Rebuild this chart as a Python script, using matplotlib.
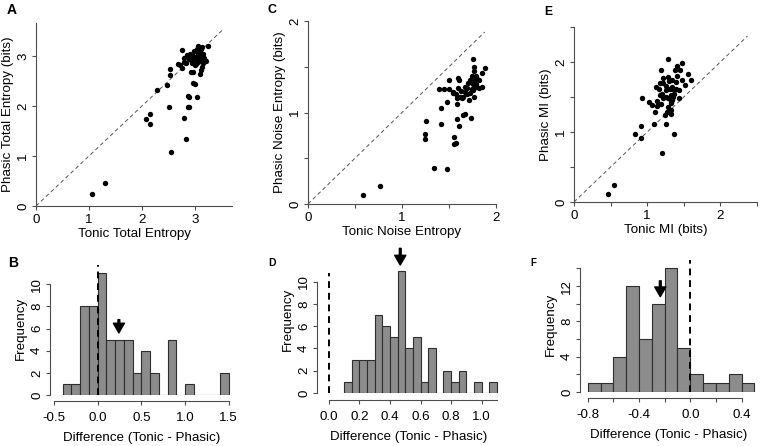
import numpy as np
import matplotlib.pyplot as plt

plt.rcParams['font.family'] = ['Liberation Sans', 'DejaVu Sans']
plt.rcParams['font.size'] = 9.6

# ---- panel A: total entropy (tonic vs phasic) ----
tot_tonic = [1.05, 1.31, 2.08, 2.16, 2.16, 2.28, 2.48, 2.51, 2.54, 2.53,
             2.53, 2.80, 2.84, 2.86, 2.89, 2.86, 2.89, 3.03, 2.96, 3.01,
             2.92, 2.97, 2.76, 2.69, 2.76, 2.80, 2.84, 2.91, 2.94, 3.00,
             3.03, 3.09, 3.13, 3.25, 3.21, 3.09, 3.13, 3.06, 3.14, 2.98,
             3.05, 3.10, 3.07, 2.88, 2.85, 3.12, 3.16, 3.02, 3.11, 2.72,
             3.06, 3.15, 2.96, 3.08, 2.93, 3.04, 3.12, 3.00, 2.79, 3.18]
tot_phasic = [0.24, 0.47, 1.75, 1.84, 1.64, 2.33, 2.43, 1.99, 1.09, 2.74,
              2.63, 1.76, 1.35, 2.20, 2.19, 1.98, 1.99, 2.19, 2.47, 2.45,
              2.69, 2.68, 3.12, 2.85, 2.76, 2.97, 2.86, 3.05, 2.86, 2.95,
              3.15, 3.05, 3.19, 3.20, 2.90, 2.65, 2.79, 2.89, 2.99, 3.10,
              3.05, 3.12, 2.98, 2.95, 3.03, 2.92, 3.05, 2.85, 2.72, 2.83,
              3.20, 2.87, 3.00, 2.93, 2.93, 2.98, 3.15, 2.82, 2.88, 2.96]

# ---- panel C: noise entropy ----
noise_tonic = [0.59, 0.77, 1.24, 1.24, 1.26, 1.34, 1.48, 1.41, 1.41, 1.39,
               1.45, 1.50, 1.48, 1.50, 1.54, 1.55, 1.55, 1.57, 1.58, 1.61,
               1.59, 1.60, 1.61, 1.65, 1.67, 1.73, 1.75, 1.77, 1.88, 1.85,
               1.85, 1.79, 1.74, 1.72, 1.78, 1.79, 1.76, 1.79, 1.72, 1.69,
               1.71, 1.65, 1.62, 1.58, 1.54, 1.69, 1.74, 1.77, 1.82, 1.82,
               1.60, 1.67, 1.63, 1.70, 1.75, 1.80, 1.67, 1.57, 1.64, 1.77]
noise_phasic = [0.10, 0.20, 0.77, 0.71, 0.91, 0.39, 0.38, 0.87, 1.05, 1.26,
                1.26, 1.26, 1.11, 1.35, 1.22, 0.73, 0.66, 0.67, 0.93, 0.85,
                1.09, 1.38, 1.36, 0.97, 0.98, 0.94, 1.58, 1.50, 1.49, 1.43,
                1.28, 1.40, 1.40, 1.35, 1.35, 1.28, 1.25, 1.31, 1.21, 1.20,
                1.14, 1.17, 1.17, 1.16, 1.21, 1.27, 1.26, 1.17, 1.27, 1.36,
                1.27, 1.28, 1.24, 1.32, 1.31, 1.37, 1.22, 1.20, 1.16, 1.45]

# ---- panel E: mutual information ----
mi_tonic = [0.46, 0.55, 0.83, 0.91, 0.92, 0.93, 1.02, 1.06, 1.09, 1.11,
            1.13, 1.14, 1.12, 1.16, 1.19, 1.20, 1.19, 1.22, 1.24, 1.25,
            1.27, 1.28, 1.29, 1.30, 1.28, 1.32, 1.32, 1.34, 1.34, 1.35,
            1.32, 1.37, 1.38, 1.41, 1.45, 1.47, 1.48, 1.51, 1.56, 1.60,
            1.39, 1.40, 1.37, 1.25, 1.20, 1.18, 1.43, 1.29, 1.26, 1.41,
            1.34, 1.21, 1.32, 1.26, 1.36, 1.31, 1.22, 1.44, 1.17, 1.33]
mi_phasic = [0.12, 0.25, 0.97, 0.92, 1.08, 1.48, 1.43, 1.39, 1.12, 1.29,
             1.37, 1.44, 1.64, 1.62, 1.88, 0.70, 1.40, 1.70, 1.24, 1.11,
             1.29, 2.04, 1.79, 1.73, 1.36, 1.32, 1.53, 1.64, 1.46, 1.50,
             1.26, 0.97, 1.89, 1.94, 1.89, 1.99, 1.75, 1.67, 1.83, 1.74,
             1.72, 1.61, 1.60, 1.60, 1.55, 1.70, 1.48, 1.49, 1.50, 1.80,
             1.74, 1.77, 1.41, 1.66, 1.55, 1.62, 1.48, 1.60, 1.53, 1.45]

# ---- histograms of differences (bin left edges and counts) ----
tot_bins = np.round(np.arange(-0.4, 1.5, 0.1), 2)
tot_counts = [1, 1, 8, 8, 11, 5, 5, 5, 2, 4, 2, 0, 5, 0, 1, 0, 0, 0, 2]
tot_mean = 0.243

noise_bins = np.round(np.arange(0.10, 1.10, 0.05), 2)
noise_counts = [1, 3, 3, 3, 7, 6, 5, 11, 4, 5, 1, 4, 0, 2, 1, 2, 0, 1, 0, 1]
noise_mean = 0.467

mi_bins = np.round(np.arange(-0.8, 0.5, 0.1), 2)
mi_counts = [1, 1, 4, 12, 6, 10, 14, 5, 2, 1, 1, 2, 1]
mi_mean = -0.234

W, H = 760, 446
axcol = '#4d4d4d'
fig = plt.figure(figsize=(W / 100, H / 100), dpi=100)


def box(left, bottom, w, h):
    return [left / W, (H - bottom) / H, w / W, h / H]


def style(ax, xb, yb, xt, xl, yt, yl, xout=0, xpad=2, ypad=2):
    ax.spines['top'].set_visible(False)
    ax.spines['right'].set_visible(False)
    for s in ['left', 'bottom']:
        ax.spines[s].set_color(axcol)
        ax.spines[s].set_linewidth(0.8)
    ax.spines['bottom'].set_bounds(*xb)
    ax.spines['left'].set_bounds(*yb)
    ax.spines['bottom'].set_position(('outward', xout))
    ax.set_xticks(xt)
    ax.set_xticklabels(xl)
    ax.set_yticks(yt)
    ax.set_yticklabels(yl, rotation=90, va='center')
    ax.tick_params(axis='x', length=3, width=0.8, color=axcol, pad=xpad,
                   labelsize=9.6)
    ax.tick_params(axis='y', length=3, width=0.8, color=axcol, pad=ypad,
                   labelsize=9.6)
    ax.set_facecolor('none')


def scatter_panel(rect, x, y, lim, ticks, labels, diag, xlab, ylab):
    ax = fig.add_axes(rect)
    ax.plot([0, diag], [0, diag], ls=(0, (4, 3)), color='#555555', lw=0.7)
    ax.scatter(x, y, s=15, color='black', zorder=3, linewidths=0)
    ax.set_xlim(0, lim[0])
    ax.set_ylim(0, lim[1])
    style(ax, (0, lim[0]), (0, lim[1]), ticks[0], labels[0], ticks[1], labels[1],
          xpad=3)
    ax.set_xlabel(xlab, labelpad=1)
    ax.set_ylabel(ylab, labelpad=2.5)
    return ax


def hist_panel(rect, bins, counts, width, mean, arrow, dash_top, xlim, ylim,
               xb, yb, xt, xl, yt, yl, xout):
    ax = fig.add_axes(rect)
    ax.bar(bins, counts, width=width, align='edge', color='#8c8c8c',
           edgecolor='#2e2e2e', linewidth=0.8)
    ax.plot([0, 0], [0, dash_top], color='black', lw=1.4, ls=(0, (3.5, 2.5)))
    ax.annotate('', xy=(mean, arrow[1]), xytext=(mean, arrow[0]),
                arrowprops=dict(facecolor='black', edgecolor='black', width=1.3,
                                headwidth=8, headlength=7, shrink=0))
    ax.set_xlim(*xlim)
    ax.set_ylim(*ylim)
    style(ax, xb, yb, xt, xl, yt, yl, xout=xout, xpad=5)
    ax.set_xlabel('Difference (Tonic - Phasic)', labelpad=6)
    ax.set_ylabel('Frequency', labelpad=3)
    return ax


# scatter row
scatter_panel(box(36, 206, 196, 183), tot_tonic, tot_phasic, (3.7, 3.66),
              ([0, 1, 2, 3], [0, 1, 2, 3]),
              (['0', '1', '2', '3'], ['0', '1', '2', '3']), 3.52,
              'Tonic Total Entropy', 'Phasic Total Entropy (bits)')
half = [0, 0.5, 1, 1.5, 2]
half_lab = ['0', '', '1', '', '2']
scatter_panel(box(308, 204, 188, 183), noise_tonic, noise_phasic, (2, 2),
              (half, half), (half_lab, half_lab), 1.88,
              'Tonic Noise Entropy', 'Phasic Noise Entropy (bits)')
half5 = [0, 0.5, 1, 1.5, 2, 2.5]
half5_lab = ['0', '', '1', '', '2', '']
scatter_panel(box(574, 202, 183, 175), mi_tonic, mi_phasic, (2.5, 2.5),
              (half5, half5), (half5_lab, half5_lab), 2.37,
              'Tonic MI (bits)', 'Phasic MI (bits)')

# histogram row
hist_panel(box(50, 395, 184, 133), tot_bins, tot_counts, 0.1, tot_mean,
           (6.8, 5.6), 11.7, (-0.545, 1.56), (0, 12), (-0.5, 1.5), (0, 10),
           [-0.5, 0, 0.5, 1.0, 1.5], ['-0.5', '0.0', '0.5', '1.0', '1.5'],
           [0, 2, 4, 6, 8, 10], ['0', '2', '4', '6', '8', '10'], 4.3)
hist_panel(box(317, 393, 183, 148), noise_bins, noise_counts, 0.05, noise_mean,
           (13.0, 11.5), 10.8, (-0.078, 1.12), (0, 13.3), (0, 1.1), (0, 10),
           [0, 0.2, 0.4, 0.6, 0.8, 1.0], ['0.0', '0.2', '0.4', '0.6', '0.8', '1.0'],
           [0, 2, 4, 6, 8, 10], ['0', '2', '4', '6', '8', '10'], 5)
hist_panel(box(580, 392, 177, 135), mi_bins, mi_counts, 0.1, mi_mean,
           (12.6, 10.8), 15, (-0.86, 0.52), (0, 15.3), (-0.8, 0.4), (0, 14),
           [-0.8, -0.6, -0.4, -0.2, 0, 0.2, 0.4],
           ['-0.8', '', '-0.4', '', '0.0', '', '0.4'],
           [0, 2, 4, 6, 8, 10, 12, 14], ['0', '', '4', '', '8', '', '12', ''], 4.3)

# panel letters
for lab, px, py, fs in [('A', 12, 10, 10), ('B', 13, 263, 10), ('C', 272, 10, 9),
                        ('D', 272, 263, 7.5), ('E', 548, 12, 8.7), ('F', 533, 263, 7)]:
    fig.text(px / W, 1 - py / H, lab, fontsize=fs, fontweight='bold',
             ha='center', va='center')

fig.savefig('out.png', dpi=100)
